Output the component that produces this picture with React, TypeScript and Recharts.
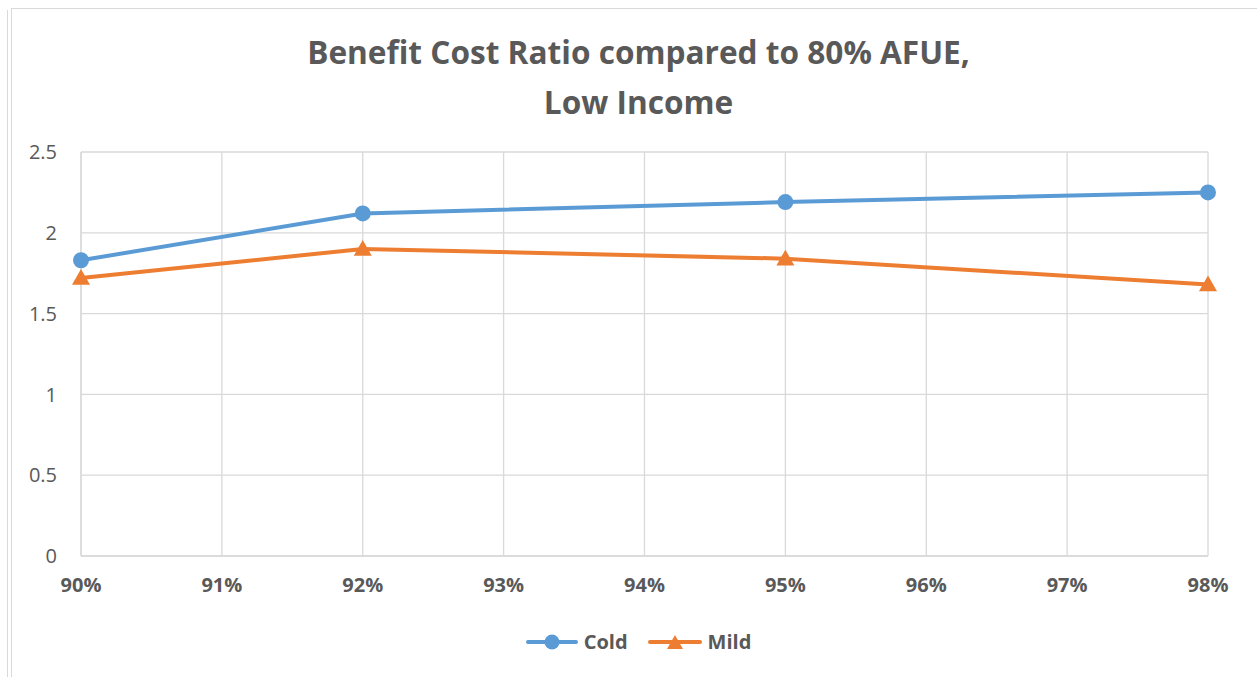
import { LineChart, Line, XAxis, YAxis, CartesianGrid, Legend } from 'recharts';

// AFUE efficiency (%) of the compared furnaces
const EFFICIENCY = [90, 92, 95, 98];
const COLD = [1.83, 2.12, 2.19, 2.25];
const MILD = [1.72, 1.9, 1.84, 1.68];

const X_TICKS = [90, 91, 92, 93, 94, 95, 96, 97, 98];
const Y_TICKS = [0, 0.5, 1, 1.5, 2, 2.5];

const BLUE = '#5B9BD5';
const ORANGE = '#ED7D31';
const GRID = '#d9d9d9';
const TEXT = '#595959';
const FONT = '"Open Sans", sans-serif';

const data = EFFICIENCY.map((e, i) => ({ eff: e, cold: COLD[i], mild: MILD[i] }));

const Triangle = (props: any) => {
  const { cx, cy, fill, size = 8 } = props;
  if (cx == null || cy == null) return null;
  return (
    <path
      d={`M${cx},${cy - size} L${cx + size},${cy + size * 0.75} L${cx - size},${cy + size * 0.75} Z`}
      fill={fill}
    />
  );
};

const LegendBox = () => (
  <div
    style={{
      display: 'flex',
      justifyContent: 'center',
      alignItems: 'center',
      fontFamily: FONT,
      fontWeight: 700,
      fontSize: 20,
      color: TEXT,
      gap: 20,
      paddingLeft: 20,
    }}
  >
    <div style={{ display: 'flex', alignItems: 'center', gap: 6 }}>
      <svg width={52} height={22}>
        <line x1={2} y1={11} x2={50} y2={11} stroke={BLUE} strokeWidth={4} strokeLinecap="round" />
        <circle cx={26} cy={11} r={7.5} fill={BLUE} />
      </svg>
      <span>Cold</span>
    </div>
    <div style={{ display: 'flex', alignItems: 'center', gap: 6 }}>
      <svg width={54} height={22}>
        <line x1={2} y1={11} x2={52} y2={11} stroke={ORANGE} strokeWidth={4} strokeLinecap="round" />
        <Triangle cx={27} cy={12} fill={ORANGE} size={8} />
      </svg>
      <span>Mild</span>
    </div>
  </div>
);

export default function App() {
  return (
    <div
      style={{
        position: 'absolute',
        left: 0,
        top: 0,
        width: 1257,
        height: 677,
        background: '#fff',
        overflow: 'hidden',
      }}
    >
      {/* frame of the chart box */}
      <div style={{ position: 'absolute', left: 7, top: 10, width: 1, height: 700, background: GRID }} />
      <div style={{ position: 'absolute', left: 11, top: 8, width: 1300, height: 700, borderLeft: `1px solid ${GRID}`, borderTop: `1px solid ${GRID}` }} />

      <div
        style={{
          position: 'absolute',
          left: 0,
          top: 27,
          width: 1277,
          textAlign: 'center',
          fontFamily: FONT,
          fontWeight: 700,
          fontSize: 31.6,
          lineHeight: '50px',
          color: TEXT,
        }}
      >
        Benefit Cost Ratio compared to 80% AFUE,
        <br />
        Low Income
      </div>

      <div style={{ position: 'absolute', left: 0, top: 0 }}>
        <LineChart
          width={1257}
          height={677}
          data={data}
          margin={{ top: 152, right: 49, bottom: 81, left: 11 }}
        >
          <CartesianGrid stroke={GRID} strokeWidth={1.3} verticalValues={X_TICKS} />
          <XAxis
            dataKey="eff"
            type="number"
            domain={[90, 98]}
            ticks={X_TICKS}
            tickFormatter={(v) => `${v}%`}
            height={40}
            axisLine={{ stroke: GRID, strokeWidth: 1.3 }}
            tickLine={false}
            tickSize={0}
            tickMargin={22}
            tick={{ fill: TEXT, fontSize: 20, fontWeight: 700, fontFamily: FONT }}
            interval={0}
          />
          <YAxis
            type="number"
            domain={[0, 2.5]}
            ticks={Y_TICKS}
            width={70}
            axisLine={{ stroke: GRID, strokeWidth: 1.3 }}
            tickLine={false}
            tickSize={0}
            tickMargin={24}
            tick={{ fill: TEXT, fontSize: 20, fontFamily: FONT }}
            interval={0}
          />
          <Legend
            verticalAlign="middle"
            layout="horizontal"
            wrapperStyle={{ top: 628, left: 0, width: 1257 }}
            content={() => <LegendBox />}
          />
          <Line
            dataKey="cold"
            name="Cold"
            stroke={BLUE}
            strokeWidth={4}
            dot={{ r: 8, fill: BLUE, stroke: BLUE, strokeWidth: 0 }}
            isAnimationActive={false}
          />
          <Line
            dataKey="mild"
            name="Mild"
            stroke={ORANGE}
            strokeWidth={4}
            dot={(p: any) => <Triangle key={p.index} cx={p.cx} cy={p.cy} fill={ORANGE} size={9} />}
            isAnimationActive={false}
          />
        </LineChart>
      </div>
    </div>
  );
}
